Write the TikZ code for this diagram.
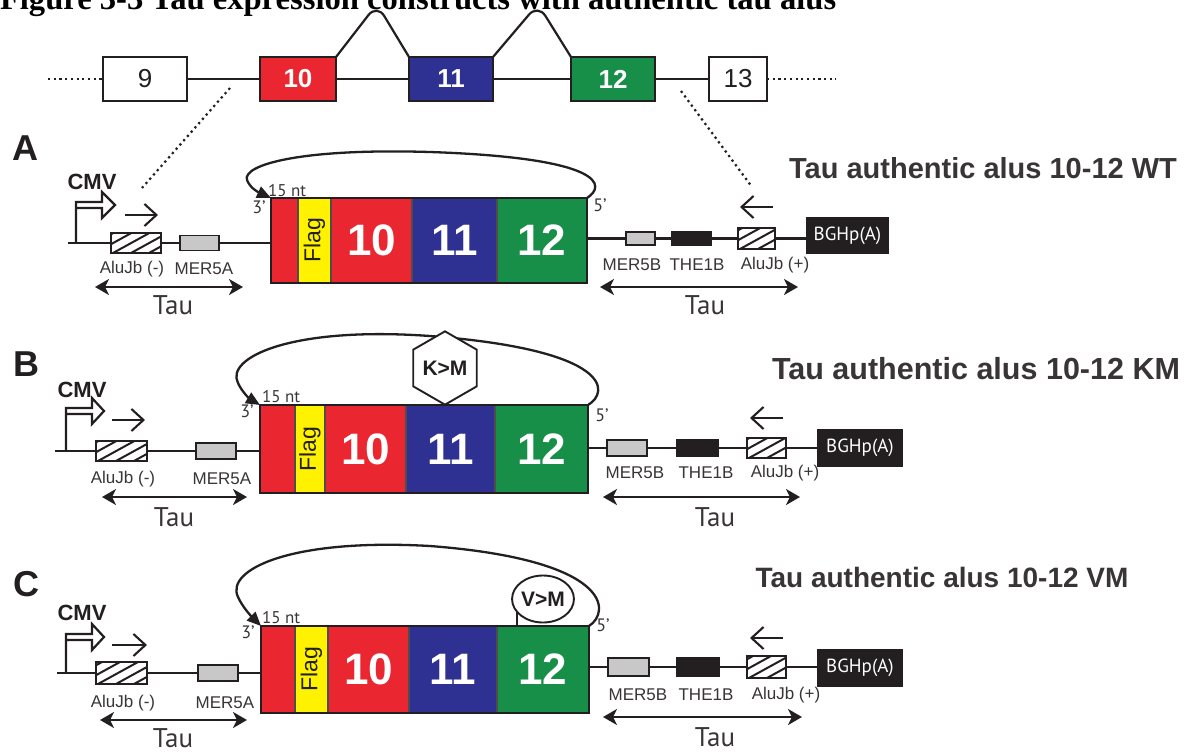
\documentclass[tikz,border=0pt]{standalone}
\usepackage{fontspec}
\setmainfont{Liberation Sans}
\newfontfamily\my{PT Sans}
\newfontfamily\tm{Liberation Serif}
\usetikzlibrary{arrows.meta,shapes.geometric,calc}
\definecolor{ired}{HTML}{EA2630}
\definecolor{iblue}{HTML}{2E3192}
\definecolor{igreen}{HTML}{178F48}
\definecolor{iyellow}{HTML}{FFF200}
\definecolor{igray}{HTML}{C8C8C8}
\definecolor{iblack}{HTML}{231F20}
\definecolor{ink}{HTML}{231F20}
\newcommand{\bx}[7]{\node[#1,minimum width={(#5)-(#3)},minimum height={(#6)-(#4)}] (#2) at ({((#3)+(#5))/2},{((#4)+(#6))/2}) {#7};}
\newcommand{\hatch}[1]{\begin{scope}\clip (#1.south west) rectangle (#1.north east);
 \foreach \d in {-52,-34,-16,2,20,38}{\draw[line width=2pt,ink] ([xshift=\d pt]#1.south west) -- ++(40,-22);}
 \end{scope}\draw[line width=1.8pt,ink] (#1.south west) rectangle (#1.north east);}
\tikzset{
 every node/.style={inner sep=0pt,outer sep=0pt},
 lw/.style={line width=2.2pt,draw=ink},
 exon/.style={draw=ink,line width=2.2pt},
 seg/.style={draw=ink!80,line width=1.2pt},
 gbox/.style={draw=ink,line width=1.8pt,fill=igray},
 kbox/.style={draw=ink,line width=1.8pt,fill=iblack},
 hbox/.style={draw=ink,line width=1.8pt,fill=white},
 lbl/.style={font=\fontsize{17}{17}\selectfont,text=ink!90},
 tau/.style={font=\my\fontsize{27}{27}\selectfont,text=ink!90},
 tauarr/.style={line width=2.3pt,draw=ink,{Stealth[length=14pt,width=16pt,inset=4pt]}-{Stealth[length=14pt,width=16pt,inset=4pt]}},
 primer/.style={line width=2.1pt,draw=ink,-{Straight Barb[length=12pt,width=22pt]}},
 lpath/.style={line width=2.3pt,draw=ink,-{Triangle[length=14pt,width=12pt]}},
 ttl/.style={font=\bfseries\fontsize{29}{29}\selectfont,text=ink!90},
 plet/.style={font=\bfseries\fontsize{36}{36}\selectfont,text=ink},
 cmv/.style={font=\bfseries\fontsize{22}{22}\selectfont,text=ink},
 num/.style={font=\bfseries\fontsize{44}{44}\selectfont,text=white},
 flag/.style={font=\fontsize{23}{23}\selectfont,rotate=90,text=ink},
 prime/.style={font=\my\fontsize{18}{18}\selectfont,text=ink!90},
 nt/.style={font=\my\fontsize{17}{17}\selectfont,text=ink!90},
 bgh/.style={font=\my\fontsize{19}{19}\selectfont,text=white},
 dots/.style={line width=2.2pt,draw=ink,dash pattern=on 2.2pt off 3.5pt},
 enum/.style={font=\fontsize{26}{26}\selectfont,text=ink},
 enumw/.style={font=\bfseries\fontsize{26}{26}\selectfont,text=white},
}
\begin{document}
\begin{tikzpicture}[x=1pt,y=-1pt]
\useasboundingbox (0,0) rectangle (1192,753);
\clip (0,0) rectangle (1192,753);
\fill[white] (0,0) rectangle (1192,753);
% figure caption (cropped at top, as in the reference)
\node[anchor=base west,font=\tm\bfseries\fontsize{32.6}{33}\selectfont,text=black] (fig) at (0,9) {Figure 3-3 Tau expression constructs with authentic tau alus};
% exon row
\bx{exon,fill=white,enum}{e9}{103}{57}{187}{101}{9}
\bx{exon,fill=ired,enumw}{e10}{260}{57}{336}{101}{10}
\bx{exon,fill=iblue,enumw}{e11}{409}{57}{493}{101}{11}
\bx{exon,fill=igreen,enumw}{e12}{571}{57}{655}{101}{12}
\bx{exon,fill=white,enum}{e13}{709}{57}{767}{101}{13}
\coordinate (l9) at (48,79); \coordinate (r13) at (836,79);
\draw[dots] (l9) -- (e9.west);
\draw[dots] (e13.east) -- (r13);
\draw[lw] (e9.east) -- (e10.west) (e10.east) -- (e11.west) (e11.east) -- (e12.west) (e12.east) -- (e13.west);
\draw[lw,rounded corners=14pt] (e10.north east) -- (377,4) -- (e11.north west);
\draw[lw,rounded corners=14pt] (e11.north east) -- (538,4) -- (e12.north west);
\coordinate (dA1) at (230,88); \coordinate (dA2) at (142,188);
\coordinate (dA3) at (681,91); \coordinate (dA4) at (752,187);
\draw[dots] (dA1) -- (dA2);
\draw[dots] (dA3) -- (dA4);

% ================= Panel A
\node[plet] (lA) at (25,148) {A};
\node[cmv] (cmvA) at (92,182) {CMV};
\node[ttl] (tA) at (983,168) {Tau authentic alus 10-12 WT};
\coordinate (sA) at (68,243);
\coordinate (pA) at (76,243);
\draw[lw,line join=miter] (pA) -- ++(0,-41) -- ++(26,0) -- ++(0,-10) -- ++(13,13) -- ++(-13,13) -- ++(0,-10) -- ++(-26,0);
\draw[primer] (125,215) -- (158,215);
\bx{hbox}{aAlu}{111}{233}{161}{253}{}
\hatch{aAlu}
\bx{gbox}{aMer}{180}{235.5}{219}{250.5}{}
\node[lbl] at (132,269) {AluJb (-)};
\node[lbl] at (204,269) {MER5A};
\draw[tauarr] (95,287) -- (243,287);
\node[tau] at (173,305) {Tau};
\bx{seg,fill=ired}{aR}{271}{198}{298}{283}{}
\bx{seg,fill=iyellow}{aY}{298}{198}{331}{283}{}
\bx{seg,fill=ired,num}{a10}{331}{198}{412}{283}{10}
\bx{seg,fill=iblue,num}{a11}{412}{198}{497}{283}{11}
\bx{seg,fill=igreen,num}{a12}{497}{198}{587}{283}{12}
\draw[ink,line width=1.8pt] (aR.north west) rectangle (a12.south east);
\node[flag] at (aY) {Flag};
\draw[lw] (sA) -- (aAlu.west) (aAlu.east) -- (aMer.west) (aMer.east) -- (aMer.east -| aR.west);
\node[prime] at (259,207) {3’};
\node[prime] at (600,205) {5’};
\node[nt,anchor=west] at (268,191) {15 nt};
\draw[lpath] (a12.north east) .. controls (606,186) and (606,158) .. (430,152) .. controls (300,148) and (242,165) .. (247,180) .. controls (250,188) and (258,192) .. (aR.north west);
\bx{gbox}{aM5}{626}{232}{655}{245}{}
\bx{kbox}{aTh}{672}{232}{711}{245}{}
\bx{hbox}{aAp}{738}{228}{775}{249}{}
\hatch{aAp}
\bx{kbox,bgh}{aBGH}{807}{218}{888}{253}{BGHp(A)}
\draw[lw] (aM5.west -| a12.east) -- (aM5.west) (aM5.east) -- (aTh.west) (aTh.east) -- (aAp.west) (aAp.east) -- (aAp.east -| aBGH.west);
\node[lbl] at (632,265) {MER5B};
\node[lbl] at (697,265) {THE1B};
\node[lbl] at (775,265) {AluJb (+)};
\draw[primer] (773,207) -- (740,207);
\draw[tauarr] (600,287) -- (798,287);
\node[tau] at (705,305) {Tau};

% ================= Panel B
\node[plet] (lB) at (26,364) {B};
\node[cmv] (cmvB) at (82,390) {CMV};
\node[ttl,font=\bfseries\fontsize{30.5}{31}\selectfont] (tB) at (976,369) {Tau authentic alus 10-12 KM};
\coordinate (sB) at (55,451);
\coordinate (pB) at (66,451);
\draw[lw,line join=miter] (pB) -- ++(0,-43) -- ++(26,0) -- ++(0,-10) -- ++(12,13) -- ++(-12,13) -- ++(0,-10) -- ++(-26,0);
\draw[primer] (112,420) -- (145,420);
\bx{hbox}{bAlu}{96}{441}{147}{461}{}
\hatch{bAlu}
\bx{gbox}{bMer}{196}{443}{236}{459}{}
\node[lbl] at (123,479) {AluJb (-)};
\node[lbl] at (222,479) {MER5A};
\draw[tauarr] (102,497) -- (247,497);
\node[tau] at (174,517) {Tau};
\bx{seg,fill=ired}{bR}{260}{405}{295}{493}{}
\bx{seg,fill=iyellow}{bY}{295}{405}{325}{493}{}
\bx{seg,fill=ired,num}{b10}{325}{405}{406}{493}{10}
\bx{seg,fill=iblue,num}{b11}{406}{405}{495}{493}{11}
\bx{seg,fill=igreen,num}{b12}{495}{405}{588}{493}{12}
\draw[ink,line width=1.8pt] (bR.north west) rectangle (b12.south east);
\node[flag] at (bY) {Flag};
\draw[lw] (sB) -- (bAlu.west) (bAlu.east) -- (bMer.west) (bMer.east) -- (bMer.east -| bR.west);
\node[prime] at (247,411) {3’};
\node[prime] at (602,415) {5’};
\node[nt,anchor=west] at (262,397) {15 nt};
\draw[lpath] (b12.north east) .. controls (610,392) and (612,350) .. (430,336) .. controls (290,326) and (225,358) .. (238,383) .. controls (242,392) and (250,399) .. (bR.north west);
\node[regular polygon,regular polygon sides=6,shape border rotate=30,minimum size=58pt,draw=ink,line width=1.9pt,fill=white,font=\bfseries\fontsize{21}{21}\selectfont,text=ink] (hex) at (445,368) {K>M};
\draw[lw] ([xshift=-14.5pt]hex.south) -- ([xshift=-14.5pt]hex.south |- b11.north);
\bx{gbox}{bM5}{607}{440}{647}{456}{}
\bx{kbox}{bTh}{677}{440}{718}{456}{}
\bx{hbox}{bAp}{747}{438}{786}{458}{}
\hatch{bAp}
\bx{kbox,bgh}{bBGH}{818}{430}{902}{466}{BGHp(A)}
\draw[lw] (bM5.west -| b12.east) -- (bM5.west) (bM5.east) -- (bTh.west) (bTh.east) -- (bAp.west) (bAp.east) -- (bAp.east -| bBGH.west);
\node[lbl] at (635,473) {MER5B};
\node[lbl] at (706,473) {THE1B};
\node[lbl] at (785,473) {AluJb (+)};
\draw[primer] (783,418) -- (750,418);
\draw[tauarr] (603,497) -- (800,497);
\node[tau] at (715,517) {Tau};

% ================= Panel C
\node[plet] (lC) at (26,584) {C};
\node[cmv] (cmvC) at (82,613) {CMV};
\node[ttl,font=\bfseries\fontsize{28}{28}\selectfont] (tC) at (942,577) {Tau authentic alus 10-12 VM};
\coordinate (sC) at (57,673);
\coordinate (pC) at (66,673);
\draw[lw,line join=miter] (pC) -- ++(0,-39) -- ++(26,0) -- ++(0,-10) -- ++(12,13) -- ++(-12,13) -- ++(0,-10) -- ++(-26,0);
\draw[primer] (112,645) -- (147,645);
\bx{hbox}{cAlu}{96}{662}{147}{684}{}
\hatch{cAlu}
\bx{gbox}{cMer}{198}{665}{238}{681}{}
\node[lbl] at (123,703) {AluJb (-)};
\node[lbl] at (225,703) {MER5A};
\draw[tauarr] (100,720) -- (247,720);
\node[tau] at (173,738) {Tau};
\bx{seg,fill=ired}{cR}{261}{626}{295}{713}{}
\bx{seg,fill=iyellow}{cY}{295}{626}{328}{713}{}
\bx{seg,fill=ired,num}{c10}{328}{626}{409}{713}{10}
\bx{seg,fill=iblue,num}{c11}{409}{626}{497}{713}{11}
\bx{seg,fill=igreen,num}{c12}{497}{626}{589}{713}{12}
\draw[ink,line width=1.8pt] (cR.north west) rectangle (c12.south east);
\node[flag] at (cY) {Flag};
\draw[lw] (sC) -- (cAlu.west) (cAlu.east) -- (cMer.west) (cMer.east) -- (cMer.east -| cR.west);
\node[prime] at (248,632) {3’};
\node[prime] at (603,625) {5’};
\node[nt,anchor=west] at (262,618) {15 nt};
\draw[lpath] (c12.north east) .. controls (611,612) and (612,560) .. (430,546) .. controls (290,538) and (225,570) .. (238,597) .. controls (242,606) and (250,615) .. (cR.north west);
\node[ellipse,minimum width=58pt,minimum height=47pt,draw=ink,line width=1.9pt,fill=white,font=\bfseries\fontsize{21}{21}\selectfont,text=ink] (vm) at (543,599) {V>M};
\draw[lw] (vm.205) -- (vm.205 |- c12.north);
\bx{gbox}{cM5}{608}{658}{649}{676}{}
\bx{kbox}{cTh}{677}{658}{719}{676}{}
\bx{hbox}{cAp}{747}{656}{786}{678}{}
\hatch{cAp}
\bx{kbox,bgh}{cBGH}{818}{650}{902}{686}{BGHp(A)}
\draw[lw] (cM5.west -| c12.east) -- (cM5.west) (cM5.east) -- (cTh.west) (cTh.east) -- (cAp.west) (cAp.east) -- (cAp.east -| cBGH.west);
\node[lbl] at (638,695) {MER5B};
\node[lbl] at (706,695) {THE1B};
\node[lbl] at (786,695) {AluJb (+)};
\draw[primer] (783,638) -- (750,638);
\draw[tauarr] (603,717) -- (802,717);
\node[tau] at (715,737) {Tau};
\end{tikzpicture}
\end{document}
